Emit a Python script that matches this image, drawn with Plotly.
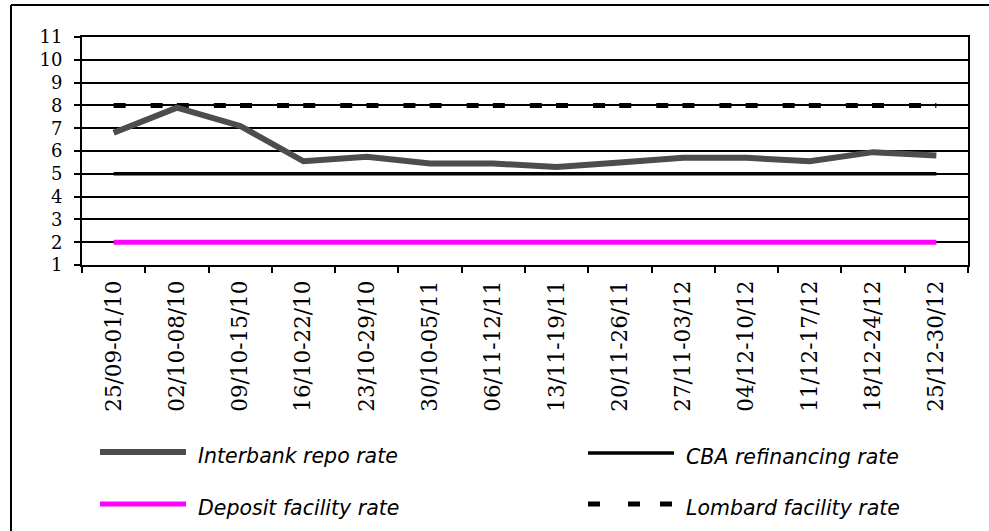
import plotly.graph_objects as go

categories = ["25/09-01/10", "02/10-08/10", "09/10-15/10", "16/10-22/10", "23/10-29/10",
              "30/10-05/11", "06/11-12/11", "13/11-19/11", "20/11-26/11", "27/11-03/12",
              "04/12-10/12", "11/12-17/12", "18/12-24/12", "25/12-30/12"]
interbank = [6.8, 7.9, 7.1, 5.55, 5.75, 5.45, 5.45, 5.3, 5.5, 5.7, 5.7, 5.55, 5.95, 5.8]
cba = [5] * 14
deposit = [2] * 14
lombard = [8] * 14
names = ["Interbank repo rate", "CBA refinancing rate", "Deposit facility rate", "Lombard facility rate"]
y_ticks = list(range(1, 12))

W, H = 989, 531
L, R, T, B = 82, 21, 37, 266
PW, PH = W - L - R, H - T - B

def px(x):
    return (x - L) / PW

def py(y):
    return (H - B - y) / PH

styles = [
    dict(color="#4d4d4d", width=6),
    dict(color="black", width=3.5),
    dict(color="#ff00ff", width=5),
    dict(color="black", width=5, dash="12px,25px,12px,14.2px"),
]
series = [interbank, cba, deposit, lombard]

fig = go.Figure()
order = [2, 1, 3, 0]
for i in order:
    fig.add_trace(go.Scatter(x=categories, y=series[i], mode="lines", name=names[i],
                             line=styles[i], showlegend=False, hoverinfo="skip"))

# manual legend
legend_pos = [(100, 452, 196), (588, 453, 684), (100, 504, 196), (588, 504, 684)]
for (x0, yy, tx), i in zip(legend_pos, range(4)):
    st = styles[i]
    fig.add_shape(type="line", xref="paper", yref="paper",
                  x0=px(x0), x1=px(x0 + 86), y0=py(yy), y1=py(yy),
                  line=dict(color=st["color"], width=st["width"],
                            dash="12px,28px,12px,20px" if "dash" in st else "solid"))
    fig.add_annotation(xref="paper", yref="paper", x=px(tx), y=py(yy + 4),
                       text="<i>" + names[i] + "</i>", showarrow=False,
                       xanchor="left", yanchor="middle",
                       font=dict(family="DejaVu Sans", size=20.5, color="black"))

# outer border (left and top edges visible)
fig.add_shape(type="line", xref="paper", yref="paper",
              x0=px(11), x1=px(11), y0=py(531), y1=py(5),
              line=dict(color="black", width=2))
fig.add_shape(type="line", xref="paper", yref="paper",
              x0=px(11), x1=px(989), y0=py(5), y1=py(5),
              line=dict(color="black", width=2))

fig.update_layout(
    width=W, height=H,
    margin=dict(l=L, r=R, t=T, b=B),
    paper_bgcolor="white", plot_bgcolor="white",
    xaxis=dict(type="category", range=[-0.5, 13.5], tickson="boundaries",
               ticks="outside", ticklen=6, tickcolor="black", tickwidth=1.5,
               showline=True, linecolor="black", linewidth=2, mirror=True,
               showgrid=False, tickangle=-90, ticklabelstandoff=5,
               tickfont=dict(family="DejaVu Serif, Liberation Serif, serif", size=21.5, color="black")),
    yaxis=dict(range=[1, 11], tickvals=y_ticks, ticks="outside", ticklen=6,
               tickcolor="black", tickwidth=1.5, ticklabelstandoff=8,
               showline=True, linecolor="black", linewidth=2, mirror=True,
               showgrid=True, gridcolor="black", gridwidth=1.5, zeroline=False,
               tickfont=dict(family="DejaVu Serif, Liberation Serif, serif", size=18, color="black")),
)

fig.write_html("out.html", config={"displayModeBar": False},
               post_script="document.body.style.margin='0';document.body.style.overflow='hidden';")
